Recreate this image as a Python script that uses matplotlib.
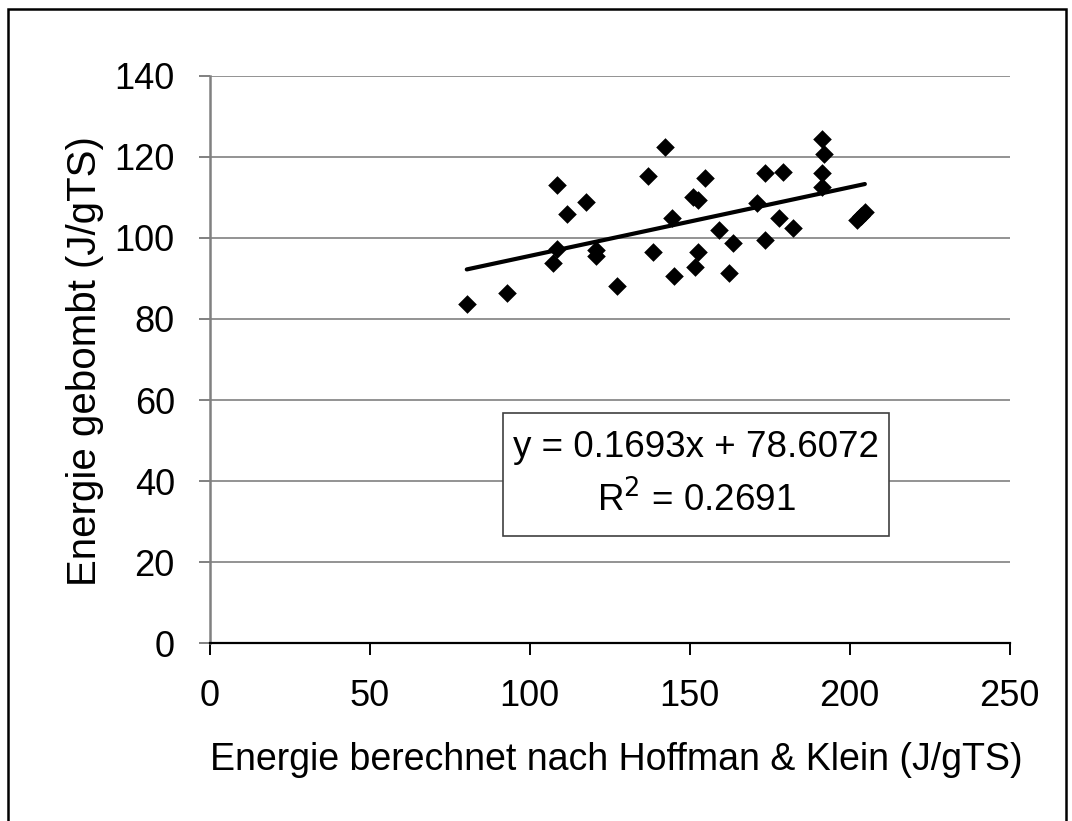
import matplotlib.pyplot as plt
from matplotlib.patches import Rectangle

plt.rcParams['font.family'] = ['Liberation Sans', 'DejaVu Sans']

x_berechnet = [80.4, 93.1, 107.2, 108.5, 108.7, 111.6, 117.7, 120.7, 120.7, 127.4,
               136.9, 138.5, 142.3, 144.4, 145.2, 151.0, 152.8, 151.7, 152.8, 154.8,
               159.3, 163.7, 162.4, 171.2, 173.6, 173.6, 178.0, 179.3, 182.4, 191.5,
               192.0, 191.5, 191.5, 202.2, 203.5, 204.8]
y_gebombt = [83.6, 86.5, 93.9, 97.3, 113.0, 105.8, 108.9, 97.0, 95.6, 88.2,
             115.3, 96.4, 122.3, 104.8, 90.7, 110.0, 109.4, 92.9, 96.6, 114.7,
             101.9, 98.7, 91.3, 108.5, 115.9, 99.5, 104.8, 116.3, 102.4, 124.3,
             120.6, 116.1, 112.6, 104.4, 105.5, 106.5]

steigung = 0.1693
achse = 78.6072
r2 = 0.2691

x_ticks = [0, 50, 100, 150, 200, 250]
y_ticks = [0, 20, 40, 60, 80, 100, 120, 140]

W, H = 1072, 821
fig = plt.figure(figsize=(W / 100, H / 100), dpi=100)

# Rahmen um das ganze Diagramm
fig.patches.append(Rectangle((8 / W, -0.05), (1058 / W), 1.05 - 9 / H,
                             transform=fig.transFigure, fill=False,
                             edgecolor='black', linewidth=1.8))

ax = fig.add_axes([209.5 / W, 1 - 643.3 / H, 800 / W, (643.3 - 75.7) / H])
ax.set_xlim(0, 250)
ax.set_ylim(0, 140)

for yt in y_ticks[1:]:
    ax.axhline(yt, color='#808080', lw=1.2, zorder=1)

ax.scatter(x_berechnet, y_gebombt, marker='D', s=90, color='black',
           linewidths=0, zorder=3)

# Trendlinie
x0, x1 = min(x_berechnet), max(x_berechnet)
ax.plot([x0, x1], [steigung * x0 + achse, steigung * x1 + achse],
        color='black', lw=3, solid_capstyle='round', zorder=4)

ax.spines['top'].set_visible(False)
ax.spines['right'].set_visible(False)
ax.spines['left'].set_color('#808080')
ax.spines['left'].set_linewidth(1.8)
ax.spines['bottom'].set_color('black')
ax.spines['bottom'].set_linewidth(1.6)

ax.set_xticks(x_ticks)
ax.set_yticks(y_ticks)
ax.tick_params(axis='x', direction='out', length=8.5, width=1.4, color='black',
               labelsize=26, pad=17)
ax.tick_params(axis='y', direction='out', length=8, width=1.4, color='#808080',
               labelsize=26, pad=17)

fig.text(85 / W, 1 - 361 / H, 'Energie gebombt (J/gTS)', rotation=90,
         ha='center', va='center', fontsize=29)
fig.text(616 / W, 1 - 760 / H, 'Energie berechnet nach Hoffman & Klein (J/gTS)',
         ha='center', va='center', fontsize=27)

# Gleichung der Trendlinie
ax.add_patch(Rectangle((91.7, 26.5), 120.6, 30.3, facecolor='white',
                       edgecolor='#404040', lw=1.2, zorder=5))
ax.text(152, 48.3, f'y = {steigung:.4f}x + {achse:.4f}', ha='center', va='center',
        fontsize=26.5, zorder=6)
ax.text(152, 35.3, f'R$^2$ = {r2:.4f}', ha='center', va='center',
        fontsize=26.5, zorder=6)

fig.savefig('out.png', dpi=100)
